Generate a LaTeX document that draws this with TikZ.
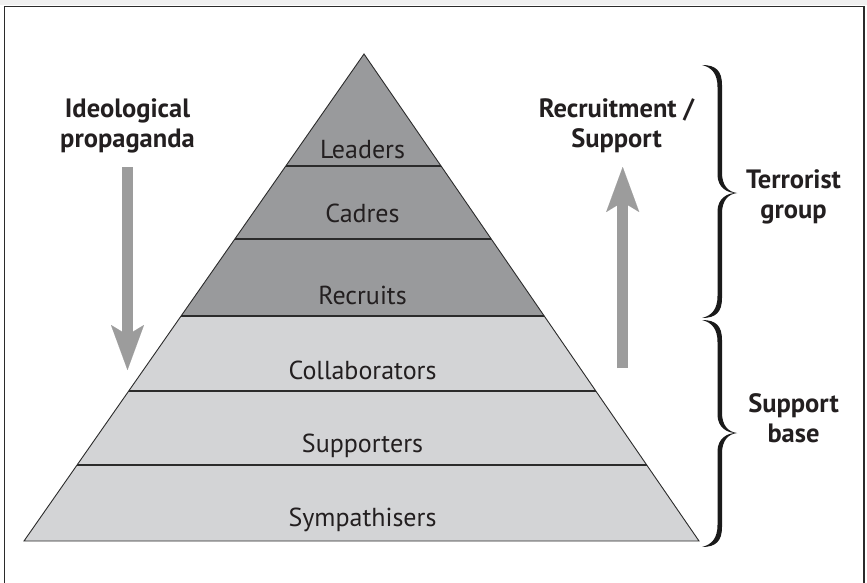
\documentclass[tikz,border=0pt]{standalone}
\usepackage{fontspec}
\setmainfont{PT Sans}
\usetikzlibrary{arrows.meta,calc}
\definecolor{darklayer}{HTML}{999A9C}
\definecolor{lightlayer}{HTML}{D3D4D6}
\definecolor{arrowgray}{HTML}{9C9C9C}
\definecolor{inkcol}{HTML}{231F20}
\definecolor{edgecol}{HTML}{2B2B2B}
\definecolor{bracecol}{HTML}{1A1A1A}
\newcommand\halfbrace[3]{%
  \fill[bracecol] (702,#1) .. controls (716,#1) and (722,{#1+#3*6}) .. (722,{#1+#3*20})
    -- (722,{#2-#3*20}) .. controls (722,{#2-#3*8}) and (728,{#2-#3*1}) .. (737,#2)
    .. controls (727,{#2+#3*0.5}) and (717.5,{#2-#3*6}) .. (717.5,{#2-#3*18})
    -- (717.5,{#1+#3*22}) .. controls (717.5,{#1+#3*9}) and (712,{#1+#3*2.5}) .. (702,#1) -- cycle;}
\begin{document}
\begin{tikzpicture}[x=1pt,y=-1pt,
  layerlabel/.style={font=\fontsize{26}{30}\selectfont, text=inkcol, anchor=base, inner sep=0pt},
  sidelabel/.style={font=\fontsize{26.5}{30}\selectfont\bfseries, text=inkcol, align=center, anchor=base, inner sep=0pt},
  flowarrow/.style={draw=arrowgray, line width=11pt, -{Stealth[length=45pt,width=33pt,inset=10pt,line width=0.01pt]}},
  layerline/.style={draw=edgecol, line width=1.3pt},
  pyredge/.style={draw=edgecol, line width=0.9pt, line join=miter}]
\useasboundingbox (0,0) rectangle (867,583);
\fill[white] (0,0) rectangle (867,583);
\fill[gray!12] (0,0) rectangle (867,5.5);
\draw[edgecol, line width=1.2pt] (4.5,583) -- (4.5,6.5) -- (864,6.5) -- (864,583);
% pyramid geometry
\coordinate (A) at (364,54);
\coordinate (BL) at (24,541);
\coordinate (BR) at (699,541);
\coordinate (L1) at ($(A)!0.2300!(BL)$); \coordinate (R1) at ($(A)!0.2300!(BR)$);
\coordinate (L2) at ($(A)!0.3799!(BL)$); \coordinate (R2) at ($(A)!0.3799!(BR)$);
\coordinate (L3) at ($(A)!0.5380!(BL)$); \coordinate (R3) at ($(A)!0.5380!(BR)$);
\coordinate (L4) at ($(A)!0.6920!(BL)$); \coordinate (R4) at ($(A)!0.6920!(BR)$);
\coordinate (L5) at ($(A)!0.8440!(BL)$); \coordinate (R5) at ($(A)!0.8440!(BR)$);
\fill[darklayer] (A) -- (L3) -- (R3) -- cycle;
\fill[lightlayer] (L3) -- (BL) -- (BR) -- (R3) -- cycle;
\draw[layerline] (L1) -- (R1);
\draw[layerline] (L2) -- (R2);
\draw[layerline] (L3) -- (R3);
\draw[layerline] (L4) -- (R4);
\draw[layerline] (L5) -- (R5);
\draw[pyredge] (A) -- (BL) -- (BR) -- cycle;
% layer labels
\node[layerlabel] (leaders) at (362.5,158) {Leaders};
\node[layerlabel] (cadres) at (362.5,222) {Cadres};
\node[layerlabel] (recruits) at (362.5,304) {Recruits};
\node[layerlabel] (collab) at (362.5,379) {Collaborators};
\node[layerlabel] (supporters) at (362.5,452) {Supporters};
\node[layerlabel] (symp) at (362.5,526) {Sympathisers};
% side labels (anchor = baseline of last line)
\node[sidelabel] (ideo) at (127.5,147) {Ideological\\propaganda};
\node[sidelabel] (recsup) at (616.5,147) {Recruitment /\\Support};
\node[sidelabel] (terr) at (793.5,218) {Terrorist\\group};
\node[sidelabel] (suppbase) at (793.5,442) {Support\\base};
% arrows
\coordinate (ipStart) at (127.5,167);
\coordinate (ipEnd) at (127.5,370);
\coordinate (rsStart) at (622.7,368);
\coordinate (rsEnd) at (622.7,167);
\draw[flowarrow] (ipStart) -- (ipEnd);
\draw[flowarrow] (rsStart) -- (rsEnd);
% braces
\halfbrace{65}{193}{1}
\halfbrace{318}{193}{-1}
\halfbrace{320}{433}{1}
\halfbrace{547}{433}{-1}
\end{tikzpicture}
\end{document}
